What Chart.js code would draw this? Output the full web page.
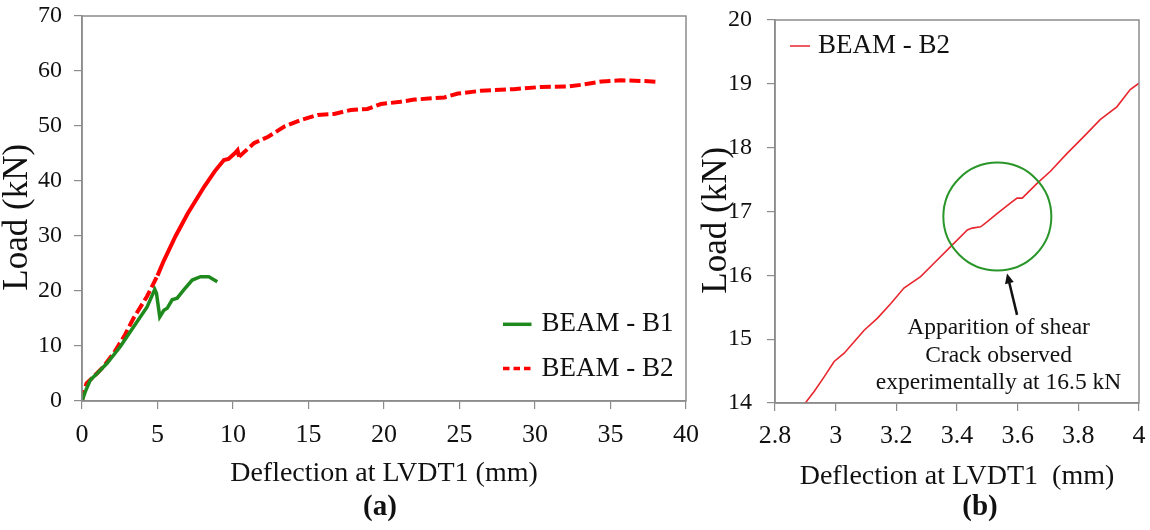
<!DOCTYPE html>
<html>
<head>
<meta charset="utf-8">
<script src="https://cdn.jsdelivr.net/npm/chart.js@4.4.1/dist/chart.umd.min.js"></script>
<style>
html, body { margin: 0; padding: 0; background: #fff; }
#wrap { position: relative; width: 1150px; height: 530px; overflow: hidden; }
canvas { position: absolute; top: 0; }
#ca { left: 0; }
#cb { left: 690px; }
.cap { position: absolute; transform: translate(-50%, -50%); font: bold 29px 'Liberation Serif', serif; line-height: 1; color: #111; }
</style>
</head>
<body>
<div id="wrap">
  <canvas id="ca" width="720" height="530"></canvas>
  <canvas id="cb" width="460" height="530"></canvas>
  <div class="cap" style="left:380px;top:505px">(a)</div>
  <div class="cap" style="left:980px;top:505px">(b)</div>
</div>
<script>
// panel (a) - full load/deflection curves
const b1Defl = [0, 0.22, 0.55, 1.0, 1.66, 2.54, 3.42, 4.31, 4.82, 4.93, 5.15, 5.42, 5.64, 5.97, 6.3, 6.74, 7.3, 7.85, 8.4, 8.96]
const b1Load = [0, 1.7, 3.8, 5.0, 6.85, 9.9, 13.5, 17.1, 20.3, 19.6, 15.3, 16.5, 16.85, 18.4, 18.7, 20.2, 22.0, 22.6, 22.6, 21.7]

const b2Defl = [0, 0.1, 0.3, 0.8, 1.4, 2.1, 2.8, 3.4, 4.3, 5.0, 5.4, 6.2, 7.0, 8.1, 8.8, 9.4, 9.7, 10.1, 10.3, 10.4,
    11.4, 12.3, 13.4, 14.5, 15.6, 16.7, 17.8, 18.9, 19.8, 21.1, 22.0, 24.0, 24.9, 26.4, 28.6, 30.4, 32.2, 33.1, 34.4, 35.7, 37.0, 38.0]
const b2Load = [0, 1.4, 3.2, 4.5, 6.2, 8.7, 11.8, 15.0, 19.0, 22.8, 25.4, 30.0, 34.1, 39.0, 41.8, 43.8, 44.0, 45.0, 45.6, 44.4,
    46.9, 48.0, 49.9, 51.1, 52.0, 52.2, 52.9, 53.1, 54.0, 54.4, 54.8, 55.2, 55.9, 56.4, 56.7, 57.1, 57.2, 57.5, 58.1, 58.3, 58.2, 58.05]

// panel (b) - zoom on beam B2 around the shear crack
const zoomDefl = [2.90, 2.929, 2.962, 2.995, 3.028, 3.061, 3.094, 3.138, 3.182, 3.225, 3.28, 3.324, 3.379, 3.434, 3.45,
    3.478, 3.50, 3.533, 3.576, 3.598, 3.615, 3.664, 3.708, 3.763, 3.817, 3.872, 3.927, 3.971, 4.0]
const zoomLoad = [14.0, 14.18, 14.41, 14.65, 14.78, 14.96, 15.14, 15.33, 15.56, 15.80, 15.98, 16.19, 16.45, 16.71, 16.74,
    16.76, 16.84, 16.97, 17.13, 17.21, 17.21, 17.44, 17.63, 17.91, 18.17, 18.44, 18.64, 18.91, 19.01]

const noteLines = ['Apparition of shear', 'Crack observed', 'experimentally at 16.5 kN']

const serif = "'Liberation Serif', 'Times New Roman', serif"
const gray = '#8c8c8c'
const pts = (xs, ys) => xs.map((x, i) => ({ x: x, y: ys[i] }))

// box around the plot area
const frame = {
    id: 'frame',
    afterDraw(chart) {
        const a = chart.chartArea, ctx = chart.ctx
        ctx.save()
        ctx.strokeStyle = gray
        ctx.lineWidth = 1.5
        ctx.strokeRect(a.left, a.top, a.right - a.left, a.bottom - a.top)
        ctx.restore()
    }
}

// legend drawn inside the plot area
const innerLegend = {
    id: 'innerLegend',
    afterDraw(chart, args, o) {
        const a = chart.chartArea, ctx = chart.ctx
        ctx.save()
        ctx.font = o.size + 'px ' + serif
        ctx.textBaseline = 'middle'
        chart.data.datasets.forEach(function (ds, i) {
            const y = a.top + o.top + i * o.gap
            const x = o.fromRight ? a.right - o.fromRight : a.left + o.left
            ctx.strokeStyle = ds.borderColor
            ctx.lineWidth = o.lineWidth[i]
            ctx.setLineDash(o.dashes[i])
            ctx.beginPath()
            ctx.moveTo(x, y)
            ctx.lineTo(x + o.len, y)
            ctx.stroke()
            ctx.setLineDash([])
            ctx.fillStyle = '#111'
            ctx.fillText(ds.label, x + o.len + o.pad, y)
        })
        ctx.restore()
    }
}

// circle, arrow and note on panel (b)
const crackNote = {
    id: 'crackNote',
    afterDatasetsDraw(chart, args, o) {
        const ctx = chart.ctx, sx = chart.scales.x, sy = chart.scales.y
        ctx.save()
        ctx.strokeStyle = '#2a962a'
        ctx.lineWidth = 2
        ctx.beginPath()
        ctx.arc(sx.getPixelForValue(o.circle.x), sy.getPixelForValue(o.circle.y), o.circle.r, 0, Math.PI * 2)
        ctx.stroke()

        const x0 = sx.getPixelForValue(o.arrow.x0), y0 = sy.getPixelForValue(o.arrow.y0)
        const x1 = sx.getPixelForValue(o.arrow.x1), y1 = sy.getPixelForValue(o.arrow.y1)
        const ang = Math.atan2(y1 - y0, x1 - x0)
        ctx.strokeStyle = '#111'
        ctx.fillStyle = '#111'
        ctx.lineWidth = 2.5
        ctx.beginPath()
        ctx.moveTo(x0, y0)
        ctx.lineTo(x1 - 6 * Math.cos(ang), y1 - 6 * Math.sin(ang))
        ctx.stroke()
        ctx.beginPath()
        ctx.moveTo(x1, y1)
        ctx.lineTo(x1 - 10 * Math.cos(ang) + 4.5 * Math.sin(ang), y1 - 10 * Math.sin(ang) - 4.5 * Math.cos(ang))
        ctx.lineTo(x1 - 10 * Math.cos(ang) - 4.5 * Math.sin(ang), y1 - 10 * Math.sin(ang) + 4.5 * Math.cos(ang))
        ctx.closePath()
        ctx.fill()

        ctx.font = o.size + 'px ' + serif
        ctx.textAlign = 'center'
        ctx.textBaseline = 'middle'
        const tx = sx.getPixelForValue(o.text.x), ty = sy.getPixelForValue(o.text.y)
        o.lines.forEach(function (t, i) {
            ctx.fillText(t, tx, ty + i * o.gap)
        })
        ctx.restore()
    }
}

function xAxis(min, max, step, height, tickPad) {
    return {
        type: 'linear', min: min, max: max,
        // fixed height, and no extra room for half-labels at the ends
        afterFit: function (s) { s.height = height; s.paddingLeft = 0; s.paddingRight = 0 },
        ticks: {
            stepSize: step, color: '#111', padding: tickPad, maxRotation: 0,
            font: { family: serif, size: 26 },
            callback: v => String(Math.round(v * 10) / 10)
        },
        grid: { drawOnChartArea: false, tickLength: 8, color: gray, lineWidth: 1.2 },
        border: { color: gray, width: 1.5 },
        title: { display: true, color: '#111', padding: { top: 0, bottom: 0 }, font: { family: serif, size: 28 } }
    }
}

function yAxis(min, max, step, width, titlePad, tickPad) {
    return {
        min: min, max: max,
        afterFit: function (s) { s.width = width; s.paddingTop = 0; s.paddingBottom = 0 },
        ticks: { stepSize: step, color: '#111', padding: tickPad, font: { family: serif, size: 24 } },
        grid: { drawOnChartArea: false, tickLength: 8, color: gray, lineWidth: 1.2 },
        border: { color: gray, width: 1.5 },
        title: { display: true, text: 'Load (kN)\u2002', color: '#111', padding: { top: titlePad, bottom: 0 }, font: { family: serif, size: 35, lineHeight: 1 } }
    }
}

// PANEL (a)
const xa = xAxis(0, 40, 5, 89, 11)
xa.title.text = 'Deflection at LVDT1 (mm)'
new Chart(document.getElementById('ca'), {
    type: 'line',
    data: {
        datasets: [{
            label: 'BEAM - B1',
            data: pts(b1Defl, b1Load),
            borderColor: '#1e8a1e',
            borderWidth: 3.5,
            pointRadius: 0,
            tension: 0
        }, {
            label: 'BEAM - B2',
            data: pts(b2Defl, b2Load),
            borderColor: '#ff0000',
            borderWidth: 4,
            borderDash: [11, 4],
            pointRadius: 0,
            tension: 0,
            segment: {
                borderDash: function (c) { return (c.p0.parsed.x >= 5 && c.p1.parsed.x <= 10.4) ? [] : [11, 4] }
            }
        }]
    },
    options: {
        responsive: false,
        animation: false,
        layout: { padding: { left: 0, right: 34, top: 16, bottom: 40 } },
        scales: { x: xa, y: yAxis(0, 70, 10, 82, 0, 12) },
        plugins: {
            legend: { display: false },
            tooltip: { enabled: false },
            innerLegend: { size: 27, top: 308.3, gap: 44.2, fromRight: 183, len: 28.5, pad: 10, lineWidth: [3.5, 3.5], dashes: [[], [6.5, 4]] }
        }
    },
    plugins: [frame, innerLegend]
})

// PANEL (b)
const xb = xAxis(2.8, 4, 0.2, 90.5, 10)
xb.title.text = 'Deflection at LVDT1  (mm)'
new Chart(document.getElementById('cb'), {
    type: 'line',
    data: {
        datasets: [{
            label: 'BEAM - B2',
            data: pts(zoomDefl, zoomLoad),
            borderColor: '#e8262d',
            borderWidth: 1.6,
            pointRadius: 0,
            tension: 0
        }]
    },
    options: {
        responsive: false,
        animation: false,
        layout: { padding: { left: 0, right: 11, top: 20, bottom: 36.5 } },
        scales: { x: xb, y: yAxis(14, 20, 1, 85, 9, 15) },
        plugins: {
            legend: { display: false },
            tooltip: { enabled: false },
            innerLegend: { size: 27, top: 26, gap: 40, left: 15, len: 20, pad: 8, lineWidth: [1.5], dashes: [[]] },
            crackNote: {
                circle: { x: 3.533, y: 16.92, r: 54 },
                arrow: { x0: 3.598, y0: 15.38, x1: 3.565, y1: 16.03 },
                text: { x: 3.537, y: 15.175 },
                lines: noteLines, size: 23.5, gap: 27.5
            }
        }
    },
    plugins: [frame, innerLegend, crackNote]
})
</script>
</body>
</html>
